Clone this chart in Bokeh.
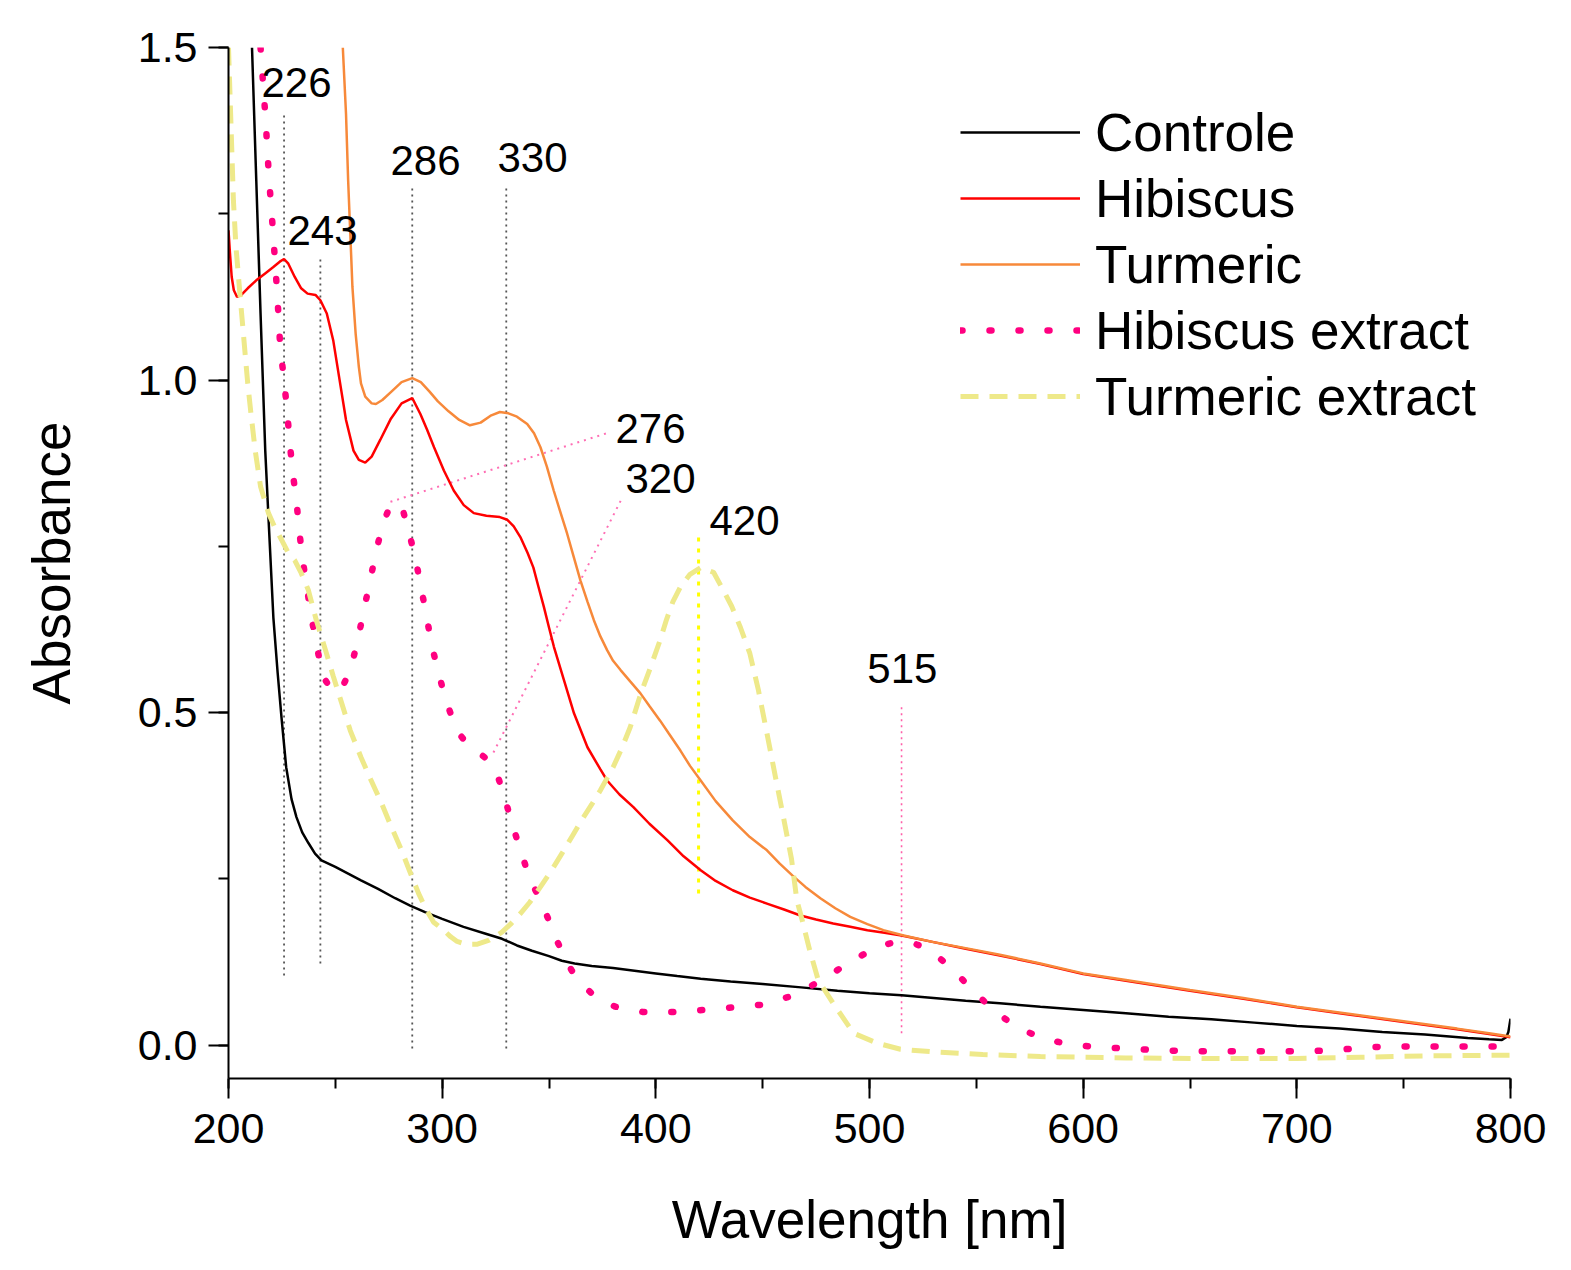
from bokeh.core.properties import value
from bokeh.embed import file_html
from bokeh.models import NumeralTickFormatter, Range1d, SingleIntervalTicker
from bokeh.plotting import figure
from bokeh.resources import INLINE

FONT = "Liberation Sans"

# --- spectra (wavelength nm, absorbance) ---
ctrl_nm = [211, 213, 215, 217.2, 218.7, 221, 223, 224.8, 227, 229.5, 231.8, 234.5, 237.4,
           240.5, 243.5, 250, 256, 262, 270, 278, 285, 292, 300, 310, 320, 328, 335, 342,
           350, 356, 362, 370, 380, 390, 400, 410, 421, 435, 450, 468, 485, 500, 515, 530,
           545, 561, 580, 600, 620, 640, 660, 680, 700, 720, 740, 760, 780, 790, 796,
           798, 799, 800]
ctrl_abs = [1.50, 1.30, 1.10, 0.894, 0.794, 0.643, 0.56, 0.493, 0.418, 0.37, 0.343, 0.32,
            0.304, 0.288, 0.278, 0.268, 0.258, 0.248, 0.235, 0.221, 0.21, 0.2, 0.19, 0.178,
            0.168, 0.16, 0.15, 0.142, 0.134, 0.127, 0.123, 0.119, 0.116, 0.112, 0.108,
            0.104, 0.100, 0.096, 0.092, 0.087, 0.082, 0.078, 0.075, 0.071, 0.067, 0.063,
            0.058, 0.053, 0.048, 0.043, 0.039, 0.034, 0.029, 0.025, 0.020, 0.016, 0.011,
            0.009, 0.008, 0.012, 0.02, 0.04]

hib_nm = [200, 200.7, 201.5, 202.5, 204, 206, 209, 213, 217, 221, 224, 226, 228, 231, 234,
          237, 240.7, 243, 246, 249, 252, 255, 258.5, 261, 264, 267, 271, 276, 281, 286,
          289.8, 293, 296.2, 300.8, 305.4, 310.1, 314.8, 320.7, 327, 330.5, 333.5, 336.6,
          340, 342.7, 345, 347.6, 350, 352.3, 357, 361.7, 368, 374, 377.2, 383, 389.5,
          397, 405.5, 413, 421, 428, 436, 444, 452, 460, 467.7, 475, 483, 491, 499, 507,
          515, 530, 545, 561, 580, 600, 620, 650, 675, 700, 725, 750, 775, 790, 800]
hib_abs = [1.225, 1.19, 1.155, 1.135, 1.125, 1.128, 1.138, 1.15, 1.16, 1.17, 1.178, 1.182,
           1.175, 1.155, 1.138, 1.13, 1.128, 1.12, 1.1, 1.06, 1.0, 0.94, 0.894, 0.88, 0.876,
           0.885, 0.91, 0.942, 0.965, 0.973, 0.949, 0.925, 0.899, 0.864, 0.834, 0.812,
           0.80, 0.796, 0.794, 0.79, 0.78, 0.764, 0.74, 0.718, 0.69, 0.659, 0.628, 0.599,
           0.549, 0.499, 0.448, 0.415, 0.398, 0.377, 0.358, 0.333, 0.308, 0.284, 0.263,
           0.247, 0.233, 0.222, 0.213, 0.204, 0.195, 0.189, 0.183, 0.178, 0.173, 0.169,
           0.165, 0.155, 0.145, 0.135, 0.122, 0.107, 0.097, 0.082, 0.07, 0.057, 0.046,
           0.035, 0.024, 0.017, 0.012]

tur_nm = [253.5, 255, 256, 257, 258, 259.5, 261, 262, 264, 267, 269, 272, 276, 281, 286,
          290, 294, 298, 303, 308, 313, 318, 323, 327, 331, 335, 339.8, 343, 346, 349,
          352.2, 355, 358.5, 361.5, 364.7, 368, 371, 374, 377.2, 380, 383.5, 388, 392.8,
          397, 402, 406, 411.5, 416, 421, 428, 436, 444, 452, 458, 464, 470, 477, 484,
          491, 499, 506.5, 516, 530, 545, 561, 580, 600, 620, 650, 675, 700, 725, 750,
          775, 790, 800]
tur_abs = [1.50, 1.40, 1.30, 1.22, 1.14, 1.07, 1.02, 0.995, 0.975, 0.965, 0.964, 0.97,
           0.982, 0.997, 1.003, 0.997, 0.983, 0.968, 0.953, 0.94, 0.932, 0.936, 0.947,
           0.952, 0.95, 0.945, 0.934, 0.92, 0.899, 0.87, 0.834, 0.805, 0.769, 0.735,
           0.699, 0.667, 0.639, 0.615, 0.594, 0.578, 0.564, 0.547, 0.529, 0.51, 0.488,
           0.469, 0.443, 0.42, 0.398, 0.367, 0.338, 0.313, 0.293, 0.273, 0.255, 0.238,
           0.221, 0.206, 0.193, 0.182, 0.173, 0.165, 0.155, 0.146, 0.136, 0.123, 0.108,
           0.098, 0.083, 0.071, 0.058, 0.047, 0.036, 0.025, 0.018, 0.013]

hibx_nm = [215, 217.3, 218.9, 220.9, 222.8, 224.3, 225.9, 227.4, 229, 230.5, 231.8, 233,
           234.6, 236.6, 238.8, 241.3, 244, 248, 252.4, 257, 260.4, 263, 266, 268.8, 272,
           275.8, 279, 282, 284, 287.5, 290, 292.7, 295, 298.3, 302, 307, 312, 317, 321,
           326, 329.6, 333, 337, 341, 346, 349, 354, 360.5, 365, 370, 375, 381, 394, 408,
           422, 436, 450, 463.5, 476, 488, 499.5, 506, 512, 519, 526, 532, 538, 547,
           557.5, 568, 579.5, 592.6, 606.6, 620.7, 634.7, 650, 670, 690, 705, 718, 732,
           745, 760, 780, 800]
hibx_abs = [1.50, 1.395, 1.307, 1.22, 1.13, 1.045, 1.004, 0.954, 0.895, 0.85, 0.819, 0.777,
            0.732, 0.69, 0.643, 0.601, 0.556, 0.535, 0.532, 0.564, 0.607, 0.649, 0.694,
            0.738, 0.782, 0.812, 0.815, 0.80, 0.777, 0.732, 0.69, 0.645, 0.603, 0.559,
            0.516, 0.472, 0.452, 0.44, 0.43, 0.405, 0.368, 0.33, 0.29, 0.25, 0.218, 0.195,
            0.155, 0.113, 0.093, 0.078, 0.066, 0.058, 0.05, 0.05, 0.053, 0.057, 0.061,
            0.074, 0.095, 0.119, 0.141, 0.15, 0.155, 0.155, 0.147, 0.133, 0.117, 0.087,
            0.054, 0.029, 0.012, 0.0015, -0.003, -0.005, -0.0075, -0.009, -0.009, -0.009,
            -0.009, -0.0075, -0.003, -0.002, -0.002, -0.002, -0.002]

turx_nm = [200, 200.8, 201.5, 202.3, 203.5, 205.6, 207.5, 209, 210.5, 212.5, 215, 218.7,
           221.5, 224.8, 228, 231, 234, 237.4, 241, 245.4, 249, 253, 257, 262, 266.5,
           271.6, 276, 281, 285, 289, 292.7, 296, 300, 304, 307, 311, 316.5, 322, 328,
           332, 336.6, 341, 346, 351, 356, 361, 366, 370, 374, 380, 384, 388, 393, 397.5,
           402, 405, 408, 411.5, 416, 421, 427, 431.6, 435.5, 439.6, 444, 448, 452, 456,
           459.7, 463.5, 466, 467.7, 472, 476, 483, 492.6, 503.7, 514.5, 530, 553, 580,
           620, 660, 700, 730, 760, 800]
turx_abs = [1.50, 1.42, 1.35, 1.27, 1.20, 1.12, 1.05, 0.995, 0.95, 0.894, 0.84, 0.80, 0.78,
            0.76, 0.74, 0.729, 0.71, 0.684, 0.64, 0.594, 0.555, 0.514, 0.473, 0.433, 0.40,
            0.364, 0.33, 0.293, 0.26, 0.228, 0.203, 0.185, 0.175, 0.163, 0.156, 0.152,
            0.152, 0.158, 0.17, 0.182, 0.198, 0.215, 0.238, 0.262, 0.288, 0.315, 0.342,
            0.362, 0.383, 0.418, 0.446, 0.478, 0.529, 0.568, 0.609, 0.64, 0.667, 0.689,
            0.708, 0.718, 0.711, 0.684, 0.66, 0.628, 0.589, 0.534, 0.469, 0.403, 0.343,
            0.28, 0.218, 0.198, 0.143, 0.098, 0.063, 0.018, 0.003, -0.006, -0.01, -0.014,
            -0.017, -0.019, -0.02, -0.02, -0.018, -0.016, -0.015]

# --- peak markers ---
peak_gray_nm = [226, 243, 286, 330]
peak_gray_top = [1.402, 1.185, 1.29, 1.293]
peak_gray_bot = [0.105, 0.123, -0.005, -0.005]

peak_yellow_nm = [420]
peak_yellow_top = [0.774]
peak_yellow_bot = [0.228]

peak_pink_nm = [515]
peak_pink_top = [0.514]
peak_pink_bot = [0.018]

# leader lines from the hibiscus-extract peaks to their labels
lead_x0 = [275.8, 324]
lead_y0 = [0.817, 0.44]
lead_x1 = [376.9, 384.4]
lead_y1 = [0.92, 0.824]

peak_labels = ["226", "243", "286", "330", "276", "320", "420", "515"]
label_x = [231.8, 244, 292.2, 342.3, 397.5, 402.2, 441.5, 515.4]
label_y = [1.447, 1.225, 1.33, 1.335, 0.927, 0.852, 0.789, 0.567]

p = figure(frame_width=1282, frame_height=1031,
           min_border_left=228, min_border_right=45, min_border_top=47, min_border_bottom=172,
           x_range=Range1d(200, 800), y_range=Range1d(-0.05, 1.5),
           output_backend="svg", toolbar_location=None)
p.outline_line_color = None
p.xgrid.visible = False
p.ygrid.visible = False
p.background_fill_color = "white"
p.border_fill_color = "white"

# markers first, curves over them
p.segment(x0=peak_gray_nm, y0=peak_gray_bot, x1=peak_gray_nm, y1=peak_gray_top,
          line_color="#555555", line_width=1.8, line_dash="2 4")
p.segment(x0=peak_yellow_nm, y0=peak_yellow_bot, x1=peak_yellow_nm, y1=peak_yellow_top,
          line_color="#ffff00", line_width=3, line_dash="4 7")
p.segment(x0=peak_pink_nm, y0=peak_pink_bot, x1=peak_pink_nm, y1=peak_pink_top,
          line_color="#ff5fa8", line_width=1.6, line_dash="2 4")
p.segment(x0=lead_x0, y0=lead_y0, x1=lead_x1, y1=lead_y1,
          line_color="#ff6eb4", line_width=2, line_dash="2 5")

p.line(ctrl_nm, ctrl_abs, line_color="black", line_width=2.5, legend_label="Controle")
p.line(hib_nm, hib_abs, line_color="#ff0000", line_width=2.5, legend_label="Hibiscus")
p.line(tur_nm, tur_abs, line_color="#f7893a", line_width=2.5, legend_label="Turmeric")
p.line(hibx_nm, hibx_abs, line_color="#ff0080", line_width=6.5, line_dash="2 27",
       line_cap="round", legend_label="Hibiscus extract")
p.line(turx_nm, turx_abs, line_color="#eee98a", line_width=5, line_dash="18 11",
       legend_label="Turmeric extract")

p.text(x=label_x, y=label_y, text=peak_labels, text_font=value(FONT),
       text_font_size="42px", text_align="center", text_baseline="middle",
       text_color="black")

# axes
p.xaxis.ticker = SingleIntervalTicker(interval=100, num_minor_ticks=2)
p.yaxis.ticker = SingleIntervalTicker(interval=0.5, num_minor_ticks=2)
p.yaxis.formatter = NumeralTickFormatter(format="0.0")
p.xaxis.axis_label = "Wavelength [nm]"
p.yaxis.axis_label = "Absorbance"
for ax in (p.xaxis, p.yaxis):
    ax.axis_line_width = 2
    ax.axis_line_color = "black"
    ax.major_tick_line_width = 2
    ax.minor_tick_line_width = 2
    ax.major_tick_line_color = "black"
    ax.minor_tick_line_color = "black"
    ax.major_tick_out = 20
    ax.major_tick_in = 0
    ax.minor_tick_out = 10
    ax.minor_tick_in = 0
    ax.major_label_text_font = FONT
    ax.major_label_text_font_size = "43px"
    ax.major_label_text_color = "black"
    ax.axis_label_text_font = FONT
    ax.axis_label_text_font_size = "53px"
    ax.axis_label_text_font_style = "normal"
    ax.axis_label_text_color = "black"
p.xaxis.major_label_standoff = 15
p.yaxis.major_label_standoff = 11
p.xaxis.axis_label_standoff = 44
p.yaxis.axis_label_standoff = 54

# legend
leg = p.legend[0]
leg.location = (732, 649)
leg.border_line_color = None
leg.background_fill_alpha = 0
leg.padding = 0
leg.margin = 0
leg.spacing = 0
leg.glyph_width = 120
leg.glyph_height = 66
leg.label_height = 66
leg.label_standoff = 15
leg.label_text_font = FONT
leg.label_text_font_size = "53px"
leg.label_text_color = "black"

open("out.html", "w").write(file_html(p, INLINE))
